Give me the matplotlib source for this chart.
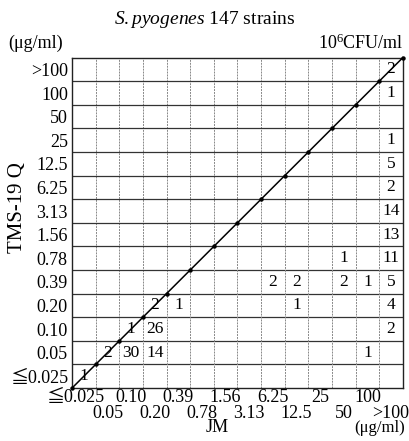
import matplotlib
matplotlib.use("Agg")
import matplotlib.pyplot as plt

plt.rcParams['font.family'] = ['Liberation Serif', 'Noto Sans CJK JP', 'DejaVu Serif']
plt.rcParams['mathtext.fontset'] = 'custom'
plt.rcParams['mathtext.rm'] = 'Liberation Serif'
plt.rcParams['mathtext.it'] = 'Liberation Serif:italic'

# MIC categories (shared by both axes)
categories = ["≦0.025", "0.05", "0.10", "0.20", "0.39", "0.78", "1.56",
              "3.13", "6.25", "12.5", "25", "50", "100", ">100"]

# cells: JM category index, TMS-19 Q category index, number of strains
jm_idx = [0, 1, 2, 3, 12, 2, 3, 13, 3, 4, 9, 13, 8, 9, 11, 12, 13,
          11, 13, 13, 13, 13, 13, 13, 13, 13]
tms_idx = [0, 1, 1, 1, 1, 2, 2, 2, 3, 3, 3, 3, 4, 4, 4, 4, 4,
           5, 5, 6, 7, 8, 9, 10, 12, 13]
counts = [1, 2, 30, 14, 1, 1, 26, 2, 2, 1, 1, 4, 2, 2, 2, 1, 5,
          1, 11, 13, 14, 2, 5, 1, 1, 2]

n = len(categories)
fig = plt.figure(figsize=(4.10, 4.41), dpi=100)
ax = fig.add_axes([0.1756, 0.120, 0.807, 0.7494])
ax.set_xlim(0, n)
ax.set_ylim(0, n)

# grid
for i in range(1, n):
    ax.axhline(i, color='#333333', lw=0.9, zorder=1)
    ax.axvline(i, color='#888888', lw=0.7, ls=(0, (2, 1)), zorder=1)
for s in ax.spines.values():
    s.set_linewidth(1.0)
    s.set_color('#222222')

# diagonal line of equal MIC
diag = list(range(n + 1))
ax.plot(diag, diag, color='black', lw=1.1, marker='o', ms=2.2, zorder=3,
        clip_on=False)

for xi, yi, c in zip(jm_idx, tms_idx, counts):
    ax.text(xi + 0.5, yi + 0.5, str(c), ha='center', va='center',
            fontsize=12.5, zorder=4)

centers = [i + 0.5 for i in range(n)]
ax.set_yticks(centers)
ax.set_yticklabels(categories, fontsize=13)
ax.set_xticks([])
ax.tick_params(axis='y', length=0, pad=3)

# staggered x tick labels
xt = ax.get_xaxis_transform()
for i, lab in enumerate(categories):
    yy = -0.030 if i % 2 == 0 else -0.076
    if i == 0:
        ax.text(i + 1.35, yy, lab, transform=xt, ha='right', va='center',
                fontsize=13)
    else:
        ax.text(i + 0.5, yy, lab, transform=xt, ha='center', va='center',
                fontsize=13)

fig.text(0.042, 0.53, "TMS-19 Q", fontsize=15, rotation=90,
         ha='center', va='center')
fig.text(0.53, 0.030, "JM", fontsize=13, ha='center', va='center')
fig.text(0.988, 0.030, "(μg/ml)", fontsize=12, ha='right', va='center')
fig.text(0.02, 0.902, "(μg/ml)", fontsize=13, ha='left', va='center')
fig.text(0.985, 0.902, "10$^6$CFU/ml", fontsize=13, ha='right', va='center')
fig.text(0.5, 0.955, r"$\it{S.pyogenes}$ 147 strains", fontsize=14,
         ha='center', va='center')

fig.savefig("out.png", dpi=100)
